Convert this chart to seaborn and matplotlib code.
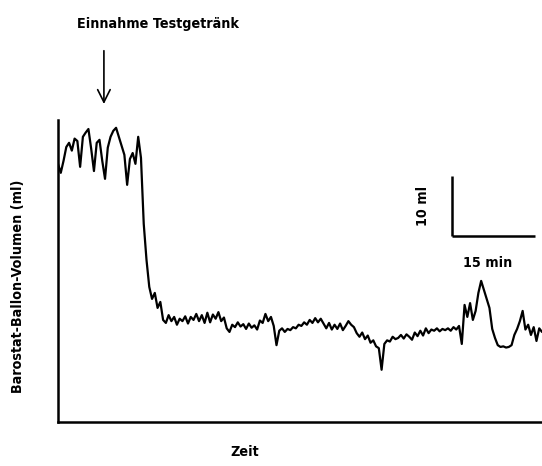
import numpy as np
import pandas as pd
import matplotlib
matplotlib.use("Agg")
import matplotlib.pyplot as plt
import seaborn as sns

# Barostat balloon volume (ml), sampled every 0.5 min
step_min = 0.5
volume_ml = [
    43.0, 41.5, 43.5, 45.8, 46.5, 45.2, 47.2, 46.8, 42.5, 47.5,
    48.2, 48.8, 45.5, 41.8, 46.5, 47.0, 43.5, 40.5, 45.7, 47.5,
    48.5, 49.0, 47.5, 46.0, 44.5, 39.5, 43.8, 44.8, 43.0, 47.5,
    44.0, 33.0, 27.0, 22.5, 20.5, 21.5, 19.0, 20.0, 17.0, 16.5,
    17.8, 16.8, 17.5, 16.2, 17.2, 16.8, 17.6, 16.4, 17.5, 17.0,
    18.0, 16.8, 17.8, 16.5, 18.2, 16.6, 17.9, 17.2, 18.3, 16.8,
    17.4, 15.6, 15.0, 16.2, 15.8, 16.6, 15.9, 16.3, 15.5, 16.4,
    15.7, 16.1, 15.4, 16.9, 16.5, 18.0, 16.8, 17.5, 16.0, 12.8,
    15.2, 15.6, 15.0, 15.5, 15.3, 15.8, 15.6, 16.2, 16.0, 16.6,
    16.2, 17.0, 16.5, 17.3, 16.6, 17.2, 16.4, 15.6, 16.5, 15.4,
    16.2, 15.5, 16.4, 15.3, 16.0, 16.8, 16.2, 15.8, 14.8, 14.2,
    14.9, 13.8, 14.4, 13.2, 13.6, 12.6, 12.3, 8.7, 13.0, 13.6,
    13.4, 14.2, 13.8, 14.0, 14.5, 13.9, 14.6, 14.2, 13.7, 14.9,
    14.3, 15.2, 14.4, 15.6, 14.8, 15.4, 15.2, 15.6, 15.1, 15.5,
    15.3, 15.6, 15.2, 15.8, 15.4, 16.0, 13.0, 19.5, 17.5, 19.8,
    17.0, 18.5, 21.5, 23.5, 22.0, 20.5, 19.0, 15.5, 14.0, 12.8,
    12.5, 12.6, 12.4, 12.5, 12.8, 14.5, 15.5, 16.8, 18.5, 15.4,
    16.2, 14.5, 15.8, 13.5, 15.6, 15.0,
]
time_min = np.arange(len(volume_ml)) * step_min

# Scale bar sizes
scale_ml = 10
scale_min = 15

title_text = "Einnahme Testgetränk"
ylabel_text = "Barostat-Ballon-Volumen (ml)"
xlabel_text = "Zeit"

df = pd.DataFrame({"Zeit": time_min, "Volumen": volume_ml})

sns.set_style("white")
plt.rcParams['font.family'] = ['DejaVu Sans']

fig = plt.figure(figsize=(5.42, 4.66), dpi=100)
ax = fig.add_axes([58/542, 44/466, 484/542, 302/466])

sns.lineplot(data=df, x="Zeit", y="Volumen", ax=ax, color="black", lw=1.6)

ax.set_xlim(0, 87.5)
ax.set_ylim(0, 50.3)
ax.set_xticks([])
ax.set_yticks([])
for s in ["top", "right"]:
    ax.spines[s].set_visible(False)
for s in ["left", "bottom"]:
    ax.spines[s].set_color("black")
    ax.spines[s].set_linewidth(1.8)
ax.set_xlabel("")
ax.set_ylabel("")

tkw = dict(fontsize=10.3, fontweight="bold", fontstretch="condensed",
           color="black")
# Labels
fig.text(245/542, 1 - 452/466, xlabel_text, ha="center", va="center", **tkw)
fig.text(18/542, 1 - 286/466, ylabel_text, ha="center", va="center",
         rotation=90, **tkw)
fig.text(158/542, 1 - 24/466, title_text, ha="center", va="center", **tkw)

# Arrow (drink intake)
ax.annotate("", xy=(8.3, 52.5), xytext=(8.3, 62.3),
            xycoords="data", textcoords="data", annotation_clip=False,
            arrowprops=dict(arrowstyle="->,head_length=0.9,head_width=0.45",
                            color="black", lw=1.2))

# Scale bar
x0, y0 = 71.25, 31.0
ax.plot([x0, x0], [y0, y0 + scale_ml], color="black", lw=1.8,
        solid_capstyle="butt")
ax.plot([x0, x0 + scale_min], [y0, y0], color="black", lw=1.8,
        solid_capstyle="butt")
ax.text(x0 - 5.2, y0 + scale_ml / 2, f"{scale_ml} ml", rotation=90,
        ha="center", va="center", **tkw)
ax.text(x0 + 6.5, y0 - 4.5, f"{scale_min} min", ha="center", va="center",
        **tkw)

fig.savefig("out.png", dpi=100)
